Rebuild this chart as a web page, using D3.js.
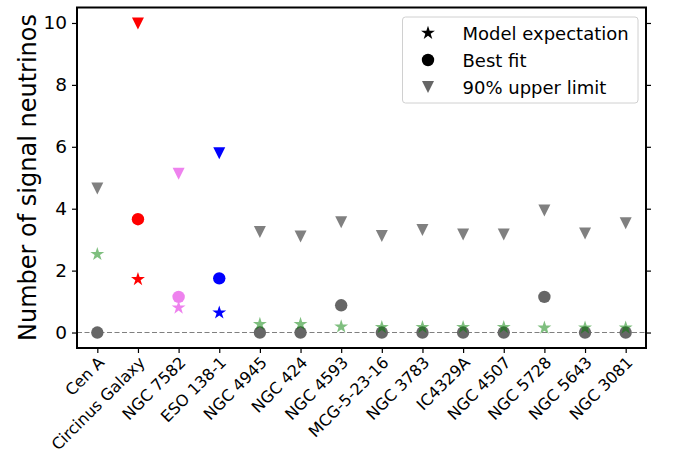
<!DOCTYPE html>
<html><head><meta charset="utf-8">
<script src="https://cdn.jsdelivr.net/npm/d3@7"></script>
<style>body{margin:0;background:#fff}svg{display:block}text{font-family:"DejaVu Sans",sans-serif}</style>
</head><body><svg id="c" width="673" height="455"></svg>
<script>
const categories = ["Cen A","Circinus Galaxy","NGC 7582","ESO 138-1","NGC 4945","NGC 424","NGC 4593","MCG-5-23-16","NGC 3783","IC4329A","NGC 4507","NGC 5728","NGC 5643","NGC 3081"];
const modelExpectation = [2.53,1.72,0.80,0.64,0.27,0.27,0.19,0.17,0.17,0.17,0.17,0.15,0.15,0.15];
const bestFit = [0,3.66,1.15,1.75,0,0,0.88,0,0,0,0,1.15,0,0];
const upperLimit = [4.65,9.98,5.13,5.79,3.25,3.10,3.56,3.12,3.31,3.17,3.17,3.94,3.20,3.53];
const pointColors = ["#808080","red","violet","blue","#808080","#808080","#808080","#808080","#808080","#808080","#808080","#808080","#808080","#808080"];
const bestFitColors = ["#666666","red","violet","blue","#666666","#666666","#666666","#666666","#666666","#666666","#666666","#666666","#666666","#666666"];
const starColors = ["rgba(0,128,0,0.5)","red","violet","blue","rgba(0,128,0,0.5)","rgba(0,128,0,0.5)","rgba(0,128,0,0.5)","rgba(0,128,0,0.5)","rgba(0,128,0,0.5)","rgba(0,128,0,0.5)","rgba(0,128,0,0.5)","rgba(0,128,0,0.5)","rgba(0,128,0,0.5)","rgba(0,128,0,0.5)"];
const yTicks = [0,2,4,6,8,10];
const legendLabels = ["Model expectation","Best fit","90% upper limit"];

const L=77,R=646,T=7.5,B=348;
const svg=d3.select("#c");
const x=d3.scaleLinear().domain([-0.5,categories.length-0.5]).range([L,R]);
const y=d3.scaleLinear().domain([-0.5,10.5]).range([B,T]);

function starPath(r){const ri=r*0.381966;let p=[];for(let i=0;i<10;i++){const a=-Math.PI/2+i*Math.PI/5;const rr=i%2?ri:r;p.push([rr*Math.cos(a),rr*Math.sin(a)]);}return "M"+p.map(q=>q.join(",")).join("L")+"Z";}
function triPath(s){const h=s/2;return `M${-h},${-h}L${h},${-h}L0,${h}Z`;}
const STAR=starPath(7.3), TRI=triPath(12);

// zero line
svg.append("line").attr("x1",L).attr("x2",R).attr("y1",y(0)).attr("y2",y(0))
  .attr("stroke","#808080").attr("stroke-width",1.2).attr("stroke-dasharray","5,2.5");

const g=svg.append("g");
g.selectAll(".ul").data(upperLimit).join("path").attr("d",TRI)
  .attr("transform",(d,i)=>`translate(${x(i)},${y(d)})`).attr("fill",(d,i)=>pointColors[i]);
g.selectAll(".bf").data(bestFit).join("circle").attr("cx",(d,i)=>x(i)).attr("cy",d=>y(d)).attr("r",6.2)
  .attr("fill",(d,i)=>bestFitColors[i]);
g.selectAll(".me").data(modelExpectation).join("path").attr("d",STAR)
  .attr("transform",(d,i)=>`translate(${x(i)},${y(d)})`).attr("fill",(d,i)=>starColors[i]);

// frame
svg.append("rect").attr("x",L).attr("y",T).attr("width",R-L).attr("height",B-T)
  .attr("fill","none").attr("stroke","#000").attr("stroke-width",2);

// y axis
const yAxis=d3.axisLeft(y).tickValues(yTicks).tickSize(5).tickPadding(5);
const ya=svg.append("g").attr("transform",`translate(${L},0)`).call(yAxis);
ya.select(".domain").remove();
ya.selectAll("text").attr("font-size",18.5).attr("fill","#000").attr("font-family","DejaVu Sans");
ya.selectAll("line").attr("stroke-width",1.2);
const yr=svg.append("g").attr("transform",`translate(${R},0)`).call(d3.axisRight(y).tickValues(yTicks).tickSize(5).tickFormat(""));
yr.select(".domain").remove(); yr.selectAll("line").attr("stroke-width",1.2);

// x axis
const xAxis=d3.axisBottom(x).tickValues(d3.range(categories.length)).tickFormat(i=>categories[i]).tickSize(5);
const xa=svg.append("g").attr("transform",`translate(0,${B})`).call(xAxis);
xa.select(".domain").remove();
xa.selectAll("line").attr("stroke-width",1.2);
xa.selectAll("text").attr("font-size",16).attr("fill","#000").attr("font-family","DejaVu Sans")
  .attr("text-anchor","end").attr("dy",null).attr("y",null)
  .attr("transform","translate(7.5,15.5) rotate(-45)");

// y label
svg.append("text").attr("transform",`translate(36,177.5) rotate(-90)`).attr("text-anchor","middle")
  .attr("font-size",24).text("Number of signal neutrinos");

// legend
const lg=svg.append("g");
lg.append("rect").attr("x",402.5).attr("y",17).attr("width",235.5).attr("height",86).attr("rx",3)
  .attr("fill","#fff").attr("fill-opacity",0.8).attr("stroke","#d0d0d0").attr("stroke-width",1);
const legendShapes=[{d:STAR,c:"#000"},{d:null,c:"#000"},{d:TRI,c:"#666"}];
legendLabels.forEach((t,i)=>{
  const cy=33+i*27;
  if(legendShapes[i].d) lg.append("path").attr("d",legendShapes[i].d).attr("transform",`translate(428,${cy})`).attr("fill",legendShapes[i].c);
  else lg.append("circle").attr("cx",428).attr("cy",cy).attr("r",6.2).attr("fill","#000");
  lg.append("text").attr("x",462.5).attr("y",cy).attr("dominant-baseline","central").attr("font-size",18).text(t);
});
</script></body></html>
